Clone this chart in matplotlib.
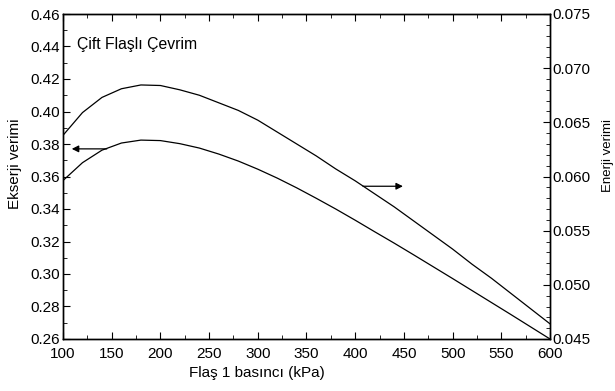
import matplotlib
matplotlib.use("Agg")
import matplotlib.pyplot as plt
from matplotlib.ticker import MultipleLocator, FormatStrFormatter

plt.rcParams['font.family'] = ['Liberation Sans', 'DejaVu Sans']

pressure = [100, 120, 140, 160, 180, 200, 220, 240, 260, 280, 300, 320, 340,
            360, 380, 400, 420, 440, 460, 480, 500, 520, 540, 560, 580, 600]
exergy_eff = [0.3575, 0.3685, 0.3762, 0.3806, 0.3824, 0.3821, 0.3802, 0.3775,
              0.3738, 0.3695, 0.3645, 0.3590, 0.3530, 0.3466, 0.3400, 0.3331,
              0.3260, 0.3190, 0.3118, 0.3045, 0.2972, 0.2898, 0.2824, 0.2750,
              0.2675, 0.2600]
energy_eff = [0.0638, 0.0659, 0.0673, 0.0681, 0.06845, 0.0684, 0.0680, 0.0675,
              0.0668, 0.0661, 0.0652, 0.0641, 0.0630, 0.0619, 0.0607, 0.0596,
              0.0584, 0.0572, 0.0559, 0.0546, 0.0533, 0.0519, 0.0506, 0.0492,
              0.0478, 0.0464]

W, H = 615, 391
fig = plt.figure(figsize=(W / 100, H / 100), dpi=100)
ax = fig.add_axes([63 / W, 52 / H, 487 / W, 325 / H])
ax2 = ax.twinx()

ax.plot(pressure, exergy_eff, color='black', lw=0.9)
ax2.plot(pressure, energy_eff, color='black', lw=0.9)

ax.set_xlim(100, 600)
ax.set_ylim(0.26, 0.46)
ax2.set_ylim(0.045, 0.075)

ax.xaxis.set_major_locator(MultipleLocator(50))
ax.xaxis.set_minor_locator(MultipleLocator(25))
ax.yaxis.set_major_locator(MultipleLocator(0.02))
ax.yaxis.set_minor_locator(MultipleLocator(0.01))
ax.yaxis.set_major_formatter(FormatStrFormatter('%.2f'))
ax2.yaxis.set_major_locator(MultipleLocator(0.005))
ax2.yaxis.set_minor_locator(MultipleLocator(0.001))
ax2.yaxis.set_major_formatter(FormatStrFormatter('%.3f'))

ax.tick_params(which='both', direction='in', top=True, right=False, labelsize=11)
ax.tick_params(axis='x', pad=6)
ax.tick_params(axis='y', pad=2)
ax.tick_params(which='major', length=5)
ax.tick_params(which='minor', length=3)
ax2.tick_params(which='both', direction='in', labelsize=11, pad=2)
ax2.tick_params(which='major', length=5)
ax2.tick_params(which='minor', length=3)

for a in (ax, ax2):
    for s in a.spines.values():
        s.set_linewidth(1.0)

def fx(px):
    return px / W

def fy(py):
    return 1 - py / H

fig.text(fx(256.5), fy(373), 'Flaş 1 basıncı (kPa)', fontsize=11,
         ha='center', va='center')
fig.text(fx(15), fy(164), 'Ekserji verimi', fontsize=11, rotation=90,
         ha='center', va='center')
fig.text(fx(608), fy(155), 'Enerji verimi', fontsize=9.5, rotation=90,
         ha='center', va='center')

fig.text(fx(77), fy(45), 'Çift Flaşlı Çevrim', fontsize=11.3,
         ha='left', va='center')

ax.annotate('', xy=(109, 0.377), xytext=(145, 0.377),
            arrowprops=dict(arrowstyle='-|>', color='black', lw=0.9,
                            mutation_scale=10, shrinkA=0, shrinkB=0))
ax2.annotate('', xy=(449, 0.0591), xytext=(408, 0.0591),
             arrowprops=dict(arrowstyle='-|>', color='black', lw=0.9,
                             mutation_scale=10, shrinkA=0, shrinkB=0))

fig.savefig('out.png', dpi=100)
